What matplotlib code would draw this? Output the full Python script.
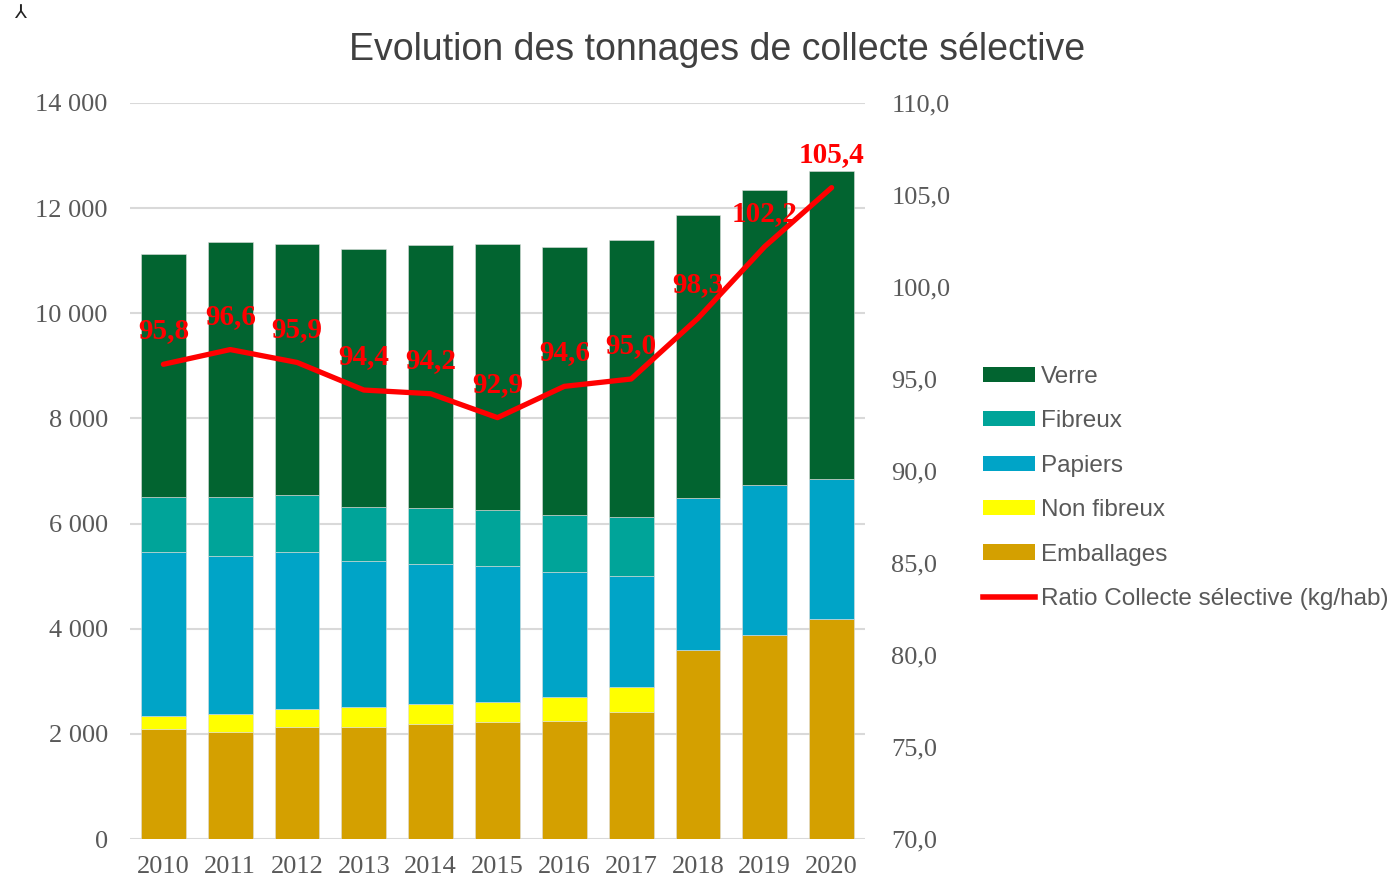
import numpy as np
import matplotlib.pyplot as plt
from matplotlib.patches import Patch
from matplotlib.lines import Line2D

# données (tonnes)
years = ['2010', '2011', '2012', '2013', '2014', '2015', '2016', '2017', '2018', '2019', '2020']
emballages = [2087, 2030, 2125, 2125, 2188, 2220, 2245, 2410, 3595, 3886, 4179]
non_fibreux = [259, 348, 348, 380, 380, 380, 450, 481, 0, 0, 0]
papiers = [3107, 3011, 2980, 2783, 2663, 2599, 2378, 2118, 2886, 2854, 2663]
fibreux = [1058, 1122, 1091, 1033, 1059, 1059, 1085, 1116, 0, 0, 0]
verre = [4623, 4851, 4780, 4908, 5003, 5066, 5103, 5263, 5394, 5611, 5865]
# ratio kg/hab
ratio = [95.8, 96.6, 95.9, 94.4, 94.2, 92.9, 94.6, 95.0, 98.3, 102.2, 105.4]

series = [
    ('Emballages', emballages, '#d4a000'),
    ('Non fibreux', non_fibreux, '#ffff00'),
    ('Papiers', papiers, '#00a4c7'),
    ('Fibreux', fibreux, '#00a499'),
    ('Verre', verre, '#026430'),
]

W, H = 1396, 884
grey = '#595959'
serif = 'Liberation Serif'
sans = 'Liberation Sans'

fig = plt.figure(figsize=(W / 100, H / 100), dpi=100)
ax = fig.add_axes([130 / W, 45 / H, 735 / W, 736 / H])

x = np.arange(len(years))
bottom = np.zeros(len(years))
for name, vals, col in series:
    ax.bar(x, vals, 0.67, bottom=bottom, color=col, edgecolor='#dddddd', linewidth=0.4, zorder=2)
    bottom += np.array(vals)

ax.set_xlim(-0.5, len(years) - 0.5)
ax.set_ylim(0, 14000)
ax.set_yticks(range(0, 14001, 2000))
ax.set_yticklabels([f'{v:,}'.replace(',', ' ') for v in range(0, 14001, 2000)])
ax.set_xticks(x)
ax.set_xticklabels(years)
ax.grid(axis='y', color='#d9d9d9', linewidth=1.5, zorder=0)
ax.set_axisbelow(True)
for s in ax.spines.values():
    s.set_visible(False)
ax.tick_params(axis='y', length=0, pad=16, labelsize=19, labelcolor=grey)
ax.tick_params(axis='x', length=0, pad=12, labelsize=19, labelcolor=grey)
for lab in ax.get_xticklabels() + ax.get_yticklabels():
    lab.set_family(serif)

ax2 = ax.twinx()
ax2.set_ylim(70, 110)
rt = np.arange(70, 110.1, 5)
ax2.set_yticks(rt)
ax2.set_yticklabels([f'{v:.1f}'.replace('.', ',') for v in rt])
for s in ax2.spines.values():
    s.set_visible(False)
ax2.tick_params(axis='y', length=0, pad=19, labelsize=19, labelcolor=grey)
for lab in ax2.get_yticklabels():
    lab.set_family(serif)

ax2.plot(x, ratio, color='#ff0000', linewidth=3.8, solid_capstyle='round', zorder=3)
for xi, r in zip(x, ratio):
    ax2.annotate(f'{r:.1f}'.replace('.', ','), (xi, r), xytext=(0, 24), textcoords='offset points',
                 ha='center', va='center', color='#ff0000', fontsize=21, fontweight='bold',
                 family=serif, zorder=4)

fig.text(717 / W, 1 - 50 / H, 'Evolution des tonnages de collecte sélective', ha='center', va='center',
         fontsize=27, color='#404040', family=sans)
fig.text(20 / W, 1 - 13 / H, '⅄', ha='center', va='center', fontsize=14, color='#222222',
         family='DejaVu Sans')

handles = [Patch(facecolor=c, edgecolor='none') for _, _, c in series[::-1]]
labels = [n for n, _, _ in series[::-1]]
handles.append(Line2D([], [], color='#ff0000', linewidth=4))
labels.append('Ratio Collecte sélective (kg/hab)')
leg = fig.legend(handles, labels, loc='center left', bbox_to_anchor=(983 / W, 1 - 488 / H),
                 frameon=False, borderpad=0, borderaxespad=0, handlelength=2.15, handleheight=0.58,
                 handletextpad=0.25, labelspacing=0.92, prop={'family': sans, 'size': 17.5})
for t in leg.get_texts():
    t.set_color(grey)

fig.savefig('out.png', dpi=100)
